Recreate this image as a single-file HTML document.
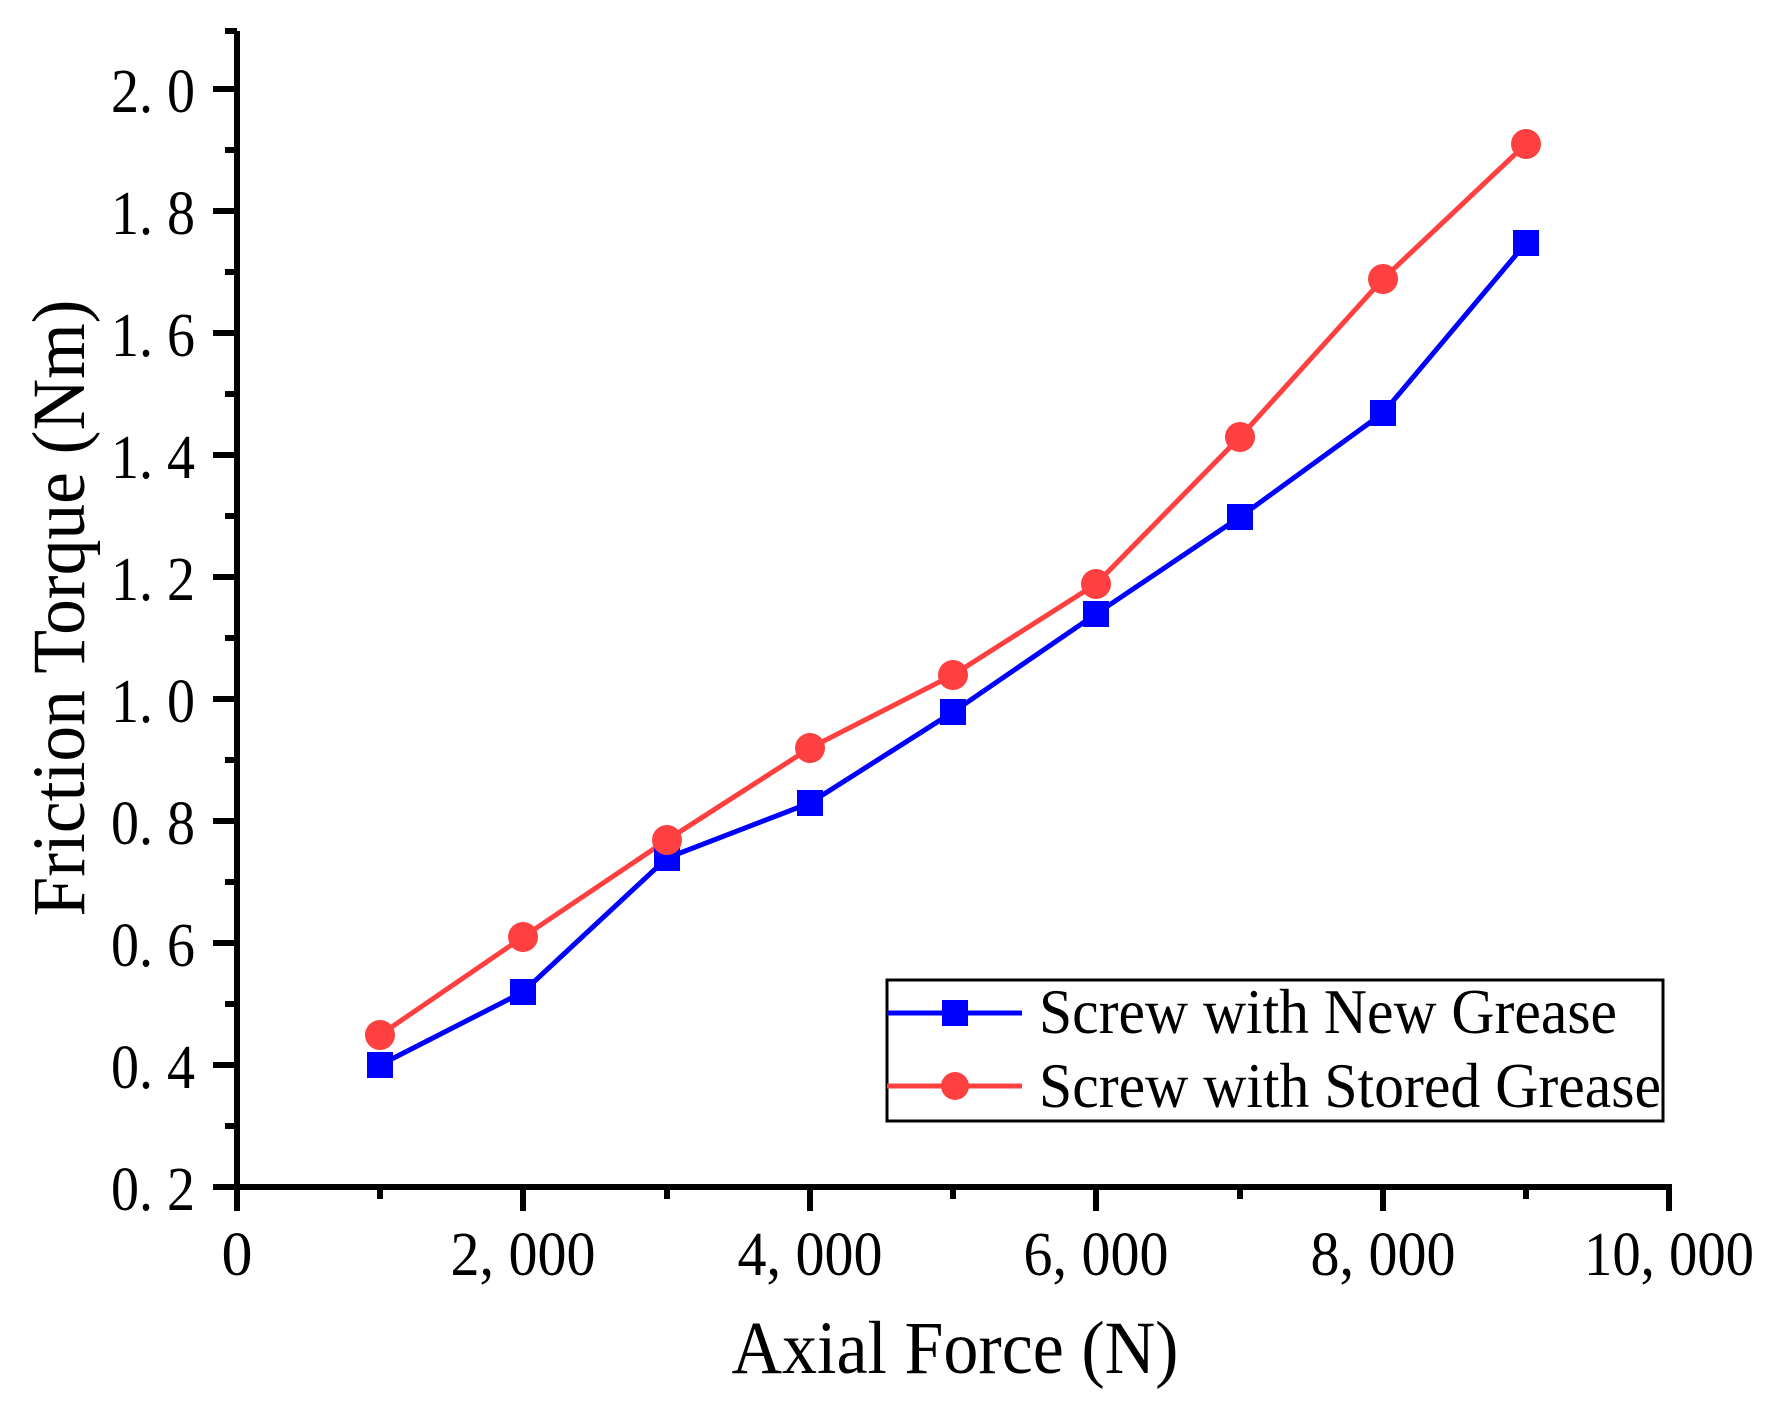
<!DOCTYPE html>
<html><head><meta charset="utf-8"><style>
html,body{margin:0;padding:0;background:#fff;}
svg{display:block;}
text{font-family:"Liberation Serif",serif;fill:#000;}
</style></head><body>
<svg width="1774" height="1417" viewBox="0 0 1774 1417" xmlns="http://www.w3.org/2000/svg">
<rect width="1774" height="1417" fill="#fff"/>
<g stroke="#000" stroke-width="6" fill="none">
<line x1="237" y1="31" x2="237" y2="1190"/>
<line x1="234" y1="1187" x2="1672" y2="1187"/>
<line x1="213" y1="1187" x2="237" y2="1187"/>
<line x1="213" y1="1065" x2="237" y2="1065"/>
<line x1="213" y1="943" x2="237" y2="943"/>
<line x1="213" y1="821" x2="237" y2="821"/>
<line x1="213" y1="699" x2="237" y2="699"/>
<line x1="213" y1="577" x2="237" y2="577"/>
<line x1="213" y1="455" x2="237" y2="455"/>
<line x1="213" y1="333" x2="237" y2="333"/>
<line x1="213" y1="211" x2="237" y2="211"/>
<line x1="213" y1="89" x2="237" y2="89"/>
<line x1="225" y1="1126" x2="237" y2="1126"/>
<line x1="225" y1="1004" x2="237" y2="1004"/>
<line x1="225" y1="882" x2="237" y2="882"/>
<line x1="225" y1="760" x2="237" y2="760"/>
<line x1="225" y1="638" x2="237" y2="638"/>
<line x1="225" y1="516" x2="237" y2="516"/>
<line x1="225" y1="394" x2="237" y2="394"/>
<line x1="225" y1="272" x2="237" y2="272"/>
<line x1="225" y1="150" x2="237" y2="150"/>
<line x1="225" y1="31" x2="237" y2="31"/>
<line x1="237" y1="1187" x2="237" y2="1211"/>
<line x1="523" y1="1187" x2="523" y2="1211"/>
<line x1="810" y1="1187" x2="810" y2="1211"/>
<line x1="1096" y1="1187" x2="1096" y2="1211"/>
<line x1="1383" y1="1187" x2="1383" y2="1211"/>
<line x1="1669" y1="1187" x2="1669" y2="1211"/>
<line x1="380" y1="1187" x2="380" y2="1199"/>
<line x1="667" y1="1187" x2="667" y2="1199"/>
<line x1="953" y1="1187" x2="953" y2="1199"/>
<line x1="1240" y1="1187" x2="1240" y2="1199"/>
<line x1="1526" y1="1187" x2="1526" y2="1199"/>
</g>
<g font-size="62" text-anchor="end">
<text x="195" y="1210" textLength="84" lengthAdjust="spacingAndGlyphs">0. 2</text>
<text x="195" y="1088" textLength="84" lengthAdjust="spacingAndGlyphs">0. 4</text>
<text x="195" y="966" textLength="84" lengthAdjust="spacingAndGlyphs">0. 6</text>
<text x="195" y="844" textLength="84" lengthAdjust="spacingAndGlyphs">0. 8</text>
<text x="195" y="722" textLength="84" lengthAdjust="spacingAndGlyphs">1. 0</text>
<text x="195" y="600" textLength="84" lengthAdjust="spacingAndGlyphs">1. 2</text>
<text x="195" y="478" textLength="84" lengthAdjust="spacingAndGlyphs">1. 4</text>
<text x="195" y="356" textLength="84" lengthAdjust="spacingAndGlyphs">1. 6</text>
<text x="195" y="234" textLength="84" lengthAdjust="spacingAndGlyphs">1. 8</text>
<text x="195" y="112" textLength="84" lengthAdjust="spacingAndGlyphs">2. 0</text>
</g>
<g font-size="62" text-anchor="middle">
<text x="237" y="1275">0</text>
<text x="523" y="1275" textLength="145" lengthAdjust="spacingAndGlyphs">2, 000</text>
<text x="810" y="1275" textLength="145" lengthAdjust="spacingAndGlyphs">4, 000</text>
<text x="1096" y="1275" textLength="145" lengthAdjust="spacingAndGlyphs">6, 000</text>
<text x="1383" y="1275" textLength="145" lengthAdjust="spacingAndGlyphs">8, 000</text>
<text x="1669" y="1275" textLength="170" lengthAdjust="spacingAndGlyphs">10, 000</text>
</g>
<text x="955" y="1373" font-size="75" text-anchor="middle" textLength="447" lengthAdjust="spacingAndGlyphs">Axial Force (N)</text>
<text transform="translate(84,608) rotate(-90)" font-size="75" text-anchor="middle" textLength="617" lengthAdjust="spacingAndGlyphs">Friction Torque (Nm)</text>
<polyline fill="none" stroke="#0000ff" stroke-width="5" points="380,1065 523,992 667,858 810,803 953,712 1096,614 1240,517 1383,413 1526,243"/>
<polyline fill="none" stroke="#ff4040" stroke-width="5" points="380,1035 523,937 667,840 810,748 953,675 1096,584 1240,437 1383,279 1526,144"/>
<g fill="#0000ff">
<rect x="367" y="1052" width="26" height="26"/><rect x="510" y="979" width="26" height="26"/><rect x="654" y="845" width="26" height="26"/><rect x="797" y="790" width="26" height="26"/><rect x="940" y="699" width="26" height="26"/><rect x="1083" y="601" width="26" height="26"/><rect x="1227" y="504" width="26" height="26"/><rect x="1370" y="400" width="26" height="26"/><rect x="1513" y="230" width="26" height="26"/>
</g>
<g fill="#ff4040">
<circle cx="380" cy="1035" r="15"/><circle cx="523" cy="937" r="15"/><circle cx="667" cy="840" r="15"/><circle cx="810" cy="748" r="15"/><circle cx="953" cy="675" r="15"/><circle cx="1096" cy="584" r="15"/><circle cx="1240" cy="437" r="15"/><circle cx="1383" cy="279" r="15"/><circle cx="1526" cy="144" r="15"/>
</g>
<rect x="887" y="980" width="776" height="141" fill="#fff" stroke="#000" stroke-width="3"/>
<line x1="887" y1="1013" x2="1022" y2="1013" stroke="#0000ff" stroke-width="5"/>
<rect x="942" y="1000" width="26" height="26" fill="#0000ff"/>
<line x1="887" y1="1086" x2="1022" y2="1086" stroke="#ff4040" stroke-width="5"/>
<circle cx="955" cy="1086" r="14" fill="#ff4040"/>
<text x="1039" y="1033" font-size="64" textLength="578" lengthAdjust="spacingAndGlyphs">Screw with New Grease</text>
<text x="1039" y="1107" font-size="64" textLength="622" lengthAdjust="spacingAndGlyphs">Screw with Stored Grease</text>
</svg>
</body></html>
